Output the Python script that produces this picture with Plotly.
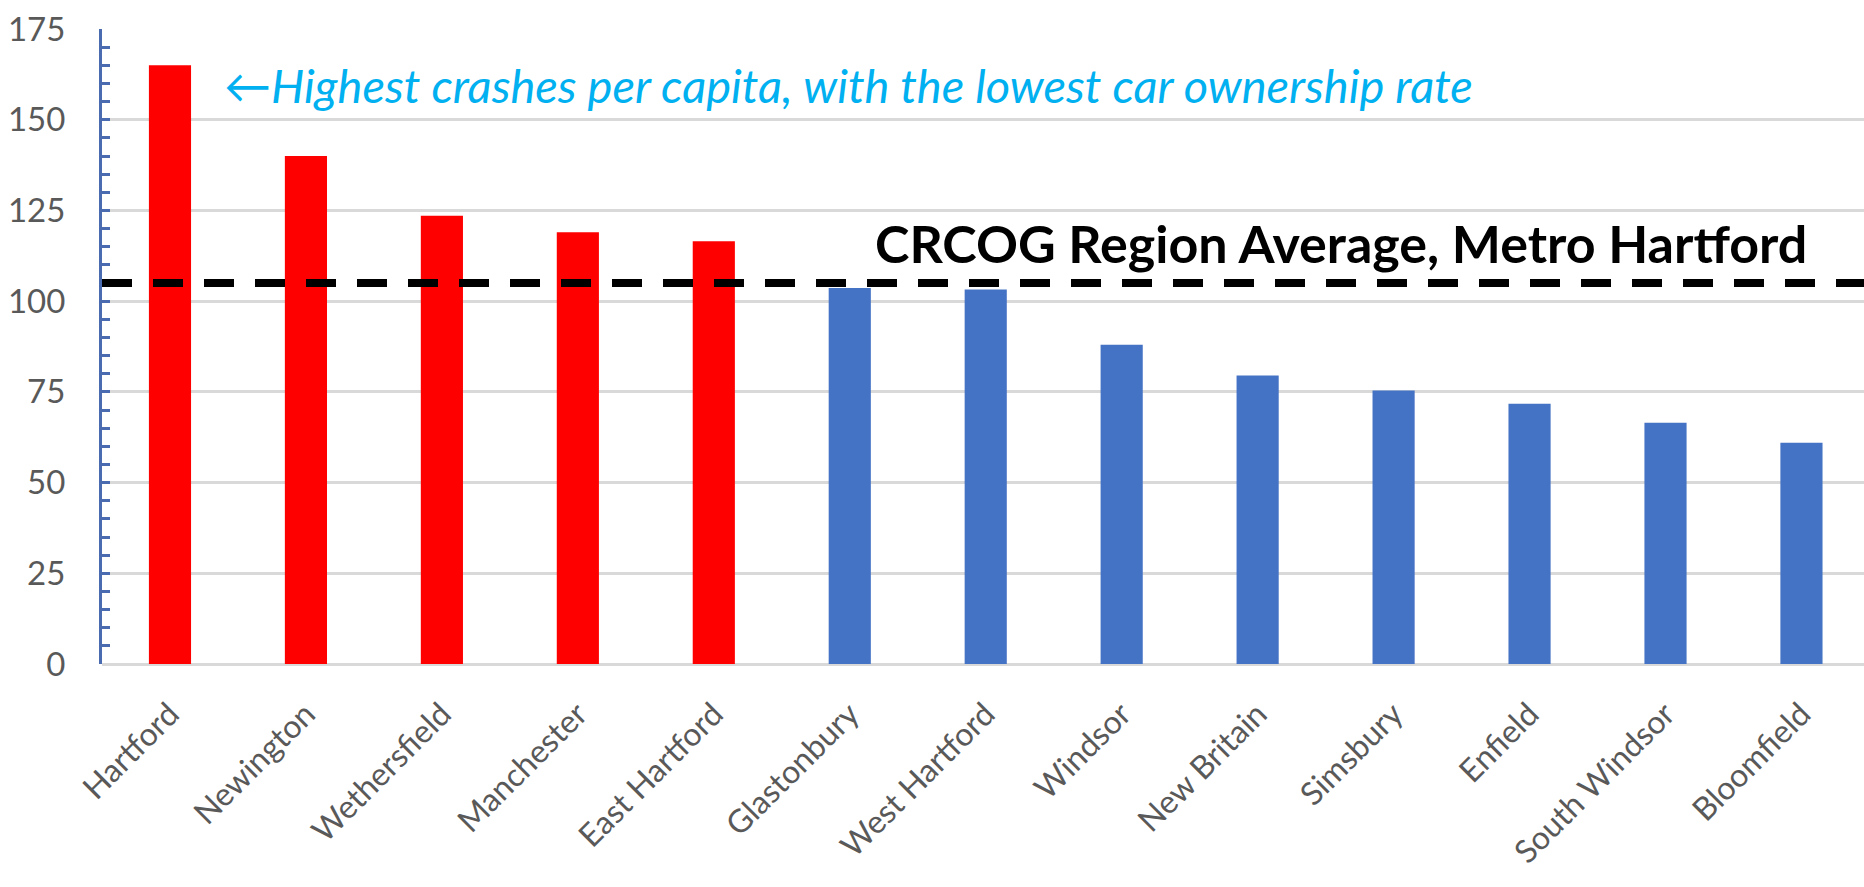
import plotly.graph_objects as go

towns = ["Hartford", "Newington", "Wethersfield", "Manchester", "East Hartford",
         "Glastonbury", "West Hartford", "Windsor", "New Britain", "Simsbury",
         "Enfield", "South Windsor", "Bloomfield"]
crashes = [165, 140, 123.5, 119, 116.5, 103.6, 103.2, 88, 79.5, 75.4, 71.7, 66.5, 61]
above_avg = [True, True, True, True, True, False, False, False, False, False, False, False, False]
region_avg = 105
y_ticks = [0, 25, 50, 75, 100, 125, 150, 175]

RED = "#FF0000"
BLUE = "#4472C4"
AXIS_BLUE = "#4A6BB0"
colors = [RED if a else BLUE for a in above_avg]

fig = go.Figure()
fig.add_trace(go.Bar(x=towns, y=crashes, marker=dict(color=colors, line=dict(width=0)),
                     showlegend=False))

fig.add_shape(type="line", xref="paper", yref="y", x0=0, x1=1.01, y0=region_avg, y1=region_avg,
              line=dict(color="black", width=8, dash="30px,21px"))

fig.add_annotation(xref="paper", yref="y", x=0.969, y=116, xanchor="right", yanchor="middle",
                   text="<b>CRCOG Region Average, Metro Hartford</b>", showarrow=False,
                   font=dict(family="Lato", size=52, color="black"))

fig.add_annotation(xref="x", yref="y", x=0.0, y=159.5, xanchor="left", yanchor="middle", xshift=52,
                   text="<i>\u2190Highest crashes per capita, with the lowest car ownership rate</i>",
                   showarrow=False, font=dict(family="Lato", size=47, color="#00B0F0"))

fig.update_layout(
    width=1864, height=887,
    margin=dict(l=102, r=0, t=29, b=223),
    paper_bgcolor="white", plot_bgcolor="white",
    bargap=0.69,
    font=dict(family="Lato", size=33, color="#595959"),
)
fig.update_xaxes(range=[-0.5, 12.46], showgrid=False, showline=False, ticks="", automargin=False,
                 tickangle=-45, tickfont=dict(size=32, color="#595959"), ticklabelstandoff=24)
fig.update_yaxes(range=[0, 175], tickvals=y_ticks, showgrid=True, gridcolor="#D9D9D9", gridwidth=2.5,
                 zeroline=True, zerolinecolor="#D9D9D9", zerolinewidth=2.5, automargin=False,
                 showline=True, linecolor=AXIS_BLUE, linewidth=3,
                 ticks="inside", ticklen=8, tickcolor=AXIS_BLUE, tickwidth=2.5,
                 minor=dict(dtick=5, ticks="inside", ticklen=8, tickcolor=AXIS_BLUE, tickwidth=2.5, showgrid=False),
                 ticklabelstandoff=27, tickfont=dict(size=33, color="#595959"))

fig.write_html("out.html", config={"displayModeBar": False},
               post_script="document.body.style.margin='0';")
